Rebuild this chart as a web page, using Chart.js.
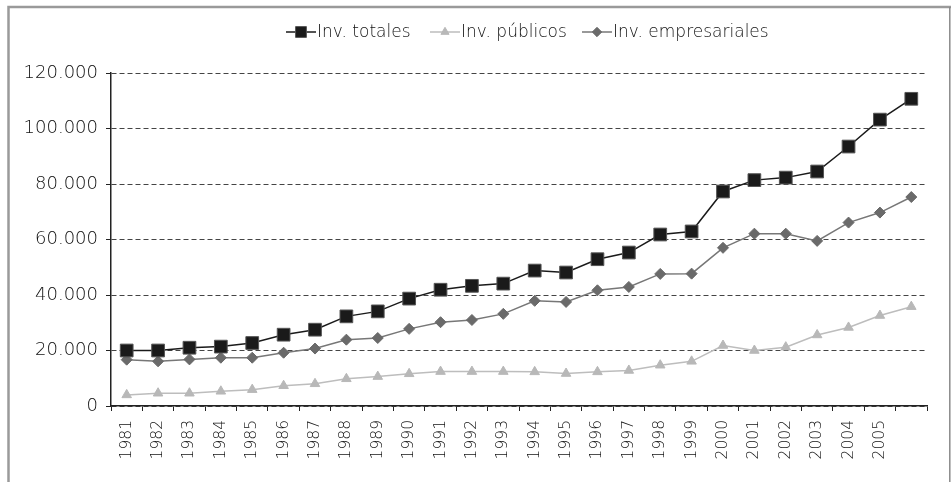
<!DOCTYPE html>
<html>
<head>
<meta charset="utf-8">
<script src="https://cdn.jsdelivr.net/npm/chart.js@4"></script>
<style>
  html, body { margin: 0; padding: 0; background: #fff; }
  #wrap { width: 951px; height: 482px; position: relative; }
  canvas { display: block; }
</style>
</head>
<body>
<div id="wrap"><canvas id="c" width="951" height="482"></canvas></div>
<script>
const categories = ['1981','1982','1983','1984','1985','1986','1987','1988','1989','1990',
  '1991','1992','1993','1994','1995','1996','1997','1998','1999','2000',
  '2001','2002','2003','2004','2005',''];
const invTotales = [20000,20000,21000,21400,22700,25700,27500,32300,34100,38700,
  41900,43300,44100,48800,48100,52900,55300,61800,62900,77300,
  81400,82300,84500,93500,103200,110700];
const invPublicos = [4000,4600,4600,5300,5900,7300,8000,9800,10600,11600,
  12400,12400,12400,12300,11700,12300,12800,14700,16100,21800,
  20000,21200,25600,28300,32600,35800];
const invEmpresariales = [16700,16100,16800,17400,17400,19200,20700,23900,24500,27800,
  30200,31000,33200,37900,37500,41700,42900,47600,47700,57000,
  62100,62100,59500,66100,69700,75300];
const seriesNames = ['Inv. totales', 'Inv. públicos', 'Inv. empresariales'];
const yTicks = [0, 20000, 40000, 60000, 80000, 100000, 120000];

const FONT = "'DejaVu Sans', sans-serif";
const TEXT = '#111111';

function fmt(v) {
  return String(v).replace(/\B(?=(\d{3})+(?!\d))/g, '.');
}

const framePlugin = {
  id: 'frame',
  beforeDraw(chart) {
    const ctx = chart.ctx;
    ctx.save();
    ctx.fillStyle = '#ffffff';
    ctx.fillRect(0, 0, chart.width, chart.height);
    ctx.strokeStyle = '#9a9a9a';
    ctx.lineWidth = 2.5;
    ctx.beginPath();
    ctx.moveTo(8.5, 482);
    ctx.lineTo(8.5, 7);
    ctx.lineTo(951, 7);
    ctx.stroke();
    ctx.lineWidth = 1.5;
    ctx.strokeStyle = '#8a8a8a';
    ctx.beginPath();
    ctx.moveTo(949.8, 7);
    ctx.lineTo(949.8, 482);
    ctx.stroke();
    ctx.restore();
  }
};

const legendPlugin = {
  id: 'customLegend',
  afterDraw(chart) {
    const ctx = chart.ctx;
    const starts = [286, 430, 582];
    const y = 32;
    ctx.save();
    chart.data.datasets.forEach((ds, i) => {
      const x0 = starts[i];
      ctx.strokeStyle = ds.borderColor;
      ctx.lineWidth = ds.borderWidth;
      ctx.beginPath();
      ctx.moveTo(x0, y);
      ctx.lineTo(x0 + 30, y);
      ctx.stroke();
      ctx.fillStyle = ds.pointBackgroundColor;
      ctx.strokeStyle = ds.pointBorderColor;
      ctx.lineWidth = ds.pointBorderWidth;
      Chart.helpers.drawPoint(ctx, {
        pointStyle: ds.pointStyle,
        radius: ds.pointRadius * 0.85,
        borderWidth: ds.pointBorderWidth
      }, x0 + 15, y);
      ctx.fillStyle = TEXT;
      ctx.font = "200 17px " + FONT;
      ctx.textBaseline = 'middle';
      ctx.textAlign = 'left';
      ctx.fillText(ds.label, x0 + 31, y + 1);
    });
    ctx.restore();
  }
};

new Chart(document.getElementById('c'), {
  type: 'line',
  data: {
    labels: categories,
    datasets: [
      {
        label: seriesNames[0],
        data: invTotales,
        borderColor: '#1a1a1a',
        borderWidth: 1.5,
        pointStyle: 'rect',
        pointRadius: 9,
        pointBackgroundColor: '#1a1a1a',
        pointBorderColor: '#555555',
        pointBorderWidth: 1,
        tension: 0
      },
      {
        label: seriesNames[1],
        data: invPublicos,
        borderColor: '#bdbdbd',
        borderWidth: 1.5,
        pointStyle: 'triangle',
        pointRadius: 5.5,
        pointBackgroundColor: '#b8b8b8',
        pointBorderColor: '#b8b8b8',
        pointBorderWidth: 1,
        tension: 0
      },
      {
        label: seriesNames[2],
        data: invEmpresariales,
        borderColor: '#777777',
        borderWidth: 1.5,
        pointStyle: 'rectRot',
        pointRadius: 5.5,
        pointBackgroundColor: '#6a6a6a',
        pointBorderColor: '#6a6a6a',
        pointBorderWidth: 1,
        tension: 0
      }
    ]
  },
  options: {
    responsive: false,
    animation: false,
    devicePixelRatio: 1,
    layout: { padding: { top: 73, right: 24, left: 0, bottom: 0 } },
    plugins: {
      legend: { display: false },
      tooltip: { enabled: false },
      title: { display: false }
    },
    scales: {
      x: {
        type: 'category',
        offset: true,
        afterFit(scale) { scale.height = 76; },
        grid: {
          offset: true,
          drawOnChartArea: false,
          drawTicks: true,
          tickLength: 5,
          color: '#222222',
          lineWidth: 1
        },
        border: { display: true, color: '#222222', width: 1.5 },
        ticks: {
          autoSkip: false,
          minRotation: 90,
          maxRotation: 90,
          padding: 9,
          color: TEXT,
          font: { family: FONT, size: 15.5, weight: '200' }
        }
      },
      y: {
        min: 0,
        max: 120000,
        afterFit(scale) { scale.width = 111; },
        afterBuildTicks(scale) { scale.ticks = yTicks.map(v => ({ value: v })); },
        grid: {
          color: '#444444',
          lineWidth: 1,
          drawTicks: true,
          tickLength: 5,
          tickColor: '#222222',
          tickBorderDash: []
        },
        border: { display: true, color: '#222222', width: 1.5, dash: [5, 3] },
        ticks: {
          padding: 8,
          color: TEXT,
          font: { family: FONT, size: 18, weight: '200' },
          callback: (v) => fmt(v)
        }
      }
    }
  },
  plugins: [framePlugin, legendPlugin]
});
</script>
</body>
</html>
